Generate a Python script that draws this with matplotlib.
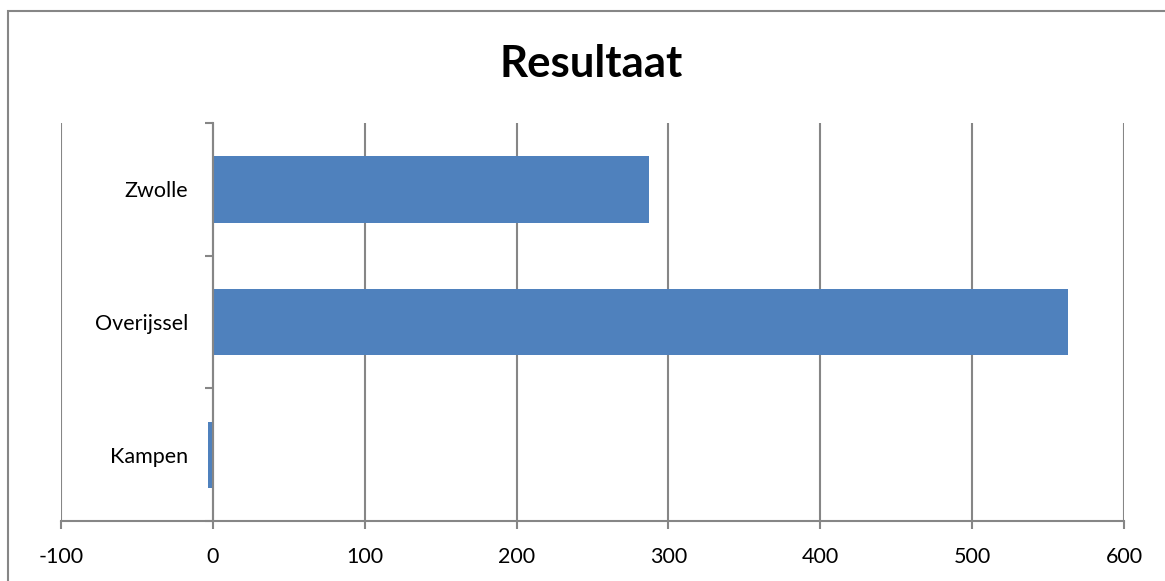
import numpy as np
import matplotlib
matplotlib.use('Agg')
import matplotlib.pyplot as plt
from matplotlib.patches import Rectangle

categories = ['Kampen', 'Overijssel', 'Zwolle']
values = [-3, 563, 287]
x_ticks = [-100, 0, 100, 200, 300, 400, 500, 600]

plt.rcParams['font.family'] = ['Lato', 'DejaVu Sans']
grey = '#868686'
bar_colour = '#4F81BD'

fig = plt.figure(figsize=(11.65, 5.81), dpi=100)
ax = fig.add_axes([61 / 1165, 1 - 521 / 581, (1124 - 61) / 1165, (521 - 123) / 581])

ypos = np.arange(len(categories))
ax.barh(ypos, values, height=0.5, color=bar_colour, zorder=3)

ax.set_xlim(x_ticks[0], x_ticks[-1])
ax.set_ylim(-0.5, len(categories) - 0.5)
ax.set_xticks(x_ticks)
ax.set_xticklabels([str(t) for t in x_ticks])
ax.set_yticks(np.arange(len(categories) + 1) - 0.5, minor=True)
ax.set_yticks(ypos)
ax.set_yticklabels(categories)

ax.grid(axis='x', color=grey, linewidth=1.5, zorder=0)
ax.set_axisbelow(True)

for side in ['top', 'right']:
    ax.spines[side].set_visible(False)
ax.spines['left'].set_position(('data', 0))
ax.spines['left'].set_color(grey)
ax.spines['left'].set_linewidth(1.5)
ax.spines['left'].set_zorder(4)
ax.spines['bottom'].set_color(grey)
ax.spines['bottom'].set_linewidth(1.5)

ax.tick_params(axis='x', direction='out', length=6, width=1.5, color=grey,
               pad=13, labelsize=15.5)
ax.tick_params(axis='y', which='major', length=0, pad=18, labelsize=15.5)
ax.tick_params(axis='y', which='minor', direction='out', length=6, width=1.5,
               color=grey, labelleft=False)

fig.text(0.507, 1 - 64 / 581, 'Resultaat', ha='center', va='center',
         fontsize=31.5, fontweight='bold')

fig.patches.append(Rectangle((7.5 / 1165, -0.1), 1.2, 1 - 11.3 / 581 + 0.1,
                             transform=fig.transFigure, fill=False,
                             edgecolor=grey, linewidth=1.5))

fig.savefig('out.png', dpi=100)
